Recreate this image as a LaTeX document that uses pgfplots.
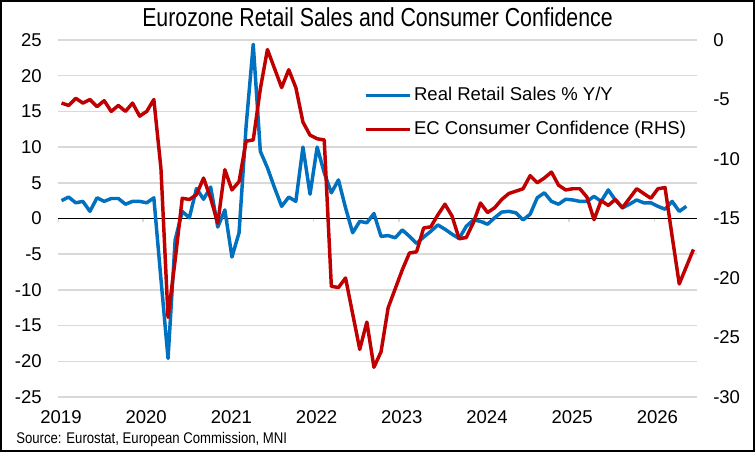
\documentclass[border=0pt]{standalone}
\usepackage{pgfplots}
\usepackage{pgfplotstable}
\pgfplotsset{compat=1.18}
\usepackage{fontspec}
\setmainfont{Liberation Sans}
\newfontfamily\titlefont[FakeStretch=0.82]{Liberation Sans}
\newfontfamily\srcfont[FakeStretch=0.85]{Liberation Sans}
\definecolor{blueline}{RGB}{0,112,192}
\definecolor{redline}{RGB}{192,0,0}
\definecolor{gridgray}{RGB}{217,217,217}
\newcommand{\tickfont}{\fontsize{13.9}{16}\selectfont}

\pgfplotstableread{
n v
0 2.5
1 3.0
2 2.2
3 2.4
4 1.0
5 2.9
6 2.4
7 2.8
8 2.8
9 2.0
10 2.4
11 2.4
12 2.2
13 2.9
14 -8.5
15 -19.6
16 -3.0
17 1.0
18 0.1
19 4.2
20 2.7
21 4.4
22 -1.2
23 1.2
24 -5.4
25 -2.0
26 13.0
27 24.4
28 9.4
29 7.1
30 4.3
31 1.7
32 3.0
33 2.4
34 10.0
35 3.4
36 10.0
37 6.4
38 3.6
39 5.4
40 1.5
41 -2.0
42 -0.4
43 -0.6
44 0.7
45 -2.5
46 -2.4
47 -2.7
48 -1.6
49 -2.5
50 -3.5
51 -2.6
52 -1.8
53 -0.9
54 -1.5
55 -2.2
56 -2.8
57 -1.1
58 -0.2
59 -0.4
60 -0.8
61 0.1
62 0.9
63 1.0
64 0.8
65 -0.2
66 0.6
67 2.9
68 3.6
69 2.4
70 2.0
71 2.7
72 2.6
73 2.4
74 2.4
75 3.1
76 2.4
77 4.0
78 2.6
79 1.5
80 2.0
81 2.6
82 2.2
83 2.2
84 1.7
85 1.3
86 2.4
87 1.0
88 1.7
}\bluedata

\pgfplotstableread{
n v
0 -5.3
1 -5.5
2 -4.9
3 -5.3
4 -5.0
5 -5.6
6 -5.1
7 -6.0
8 -5.5
9 -6.0
10 -5.3
11 -6.4
12 -6.0
13 -5.0
14 -10.8
15 -23.3
16 -18.5
17 -13.3
18 -13.4
19 -13.0
20 -11.6
21 -13.3
22 -15.4
23 -10.9
24 -12.6
25 -11.9
26 -8.5
27 -8.4
28 -4.1
29 -0.8
30 -2.4
31 -4.0
32 -2.5
33 -4.0
34 -6.9
35 -8.0
36 -8.3
37 -8.4
38 -20.7
39 -20.8
40 -20.0
41 -23.0
42 -26.0
43 -23.7
44 -27.5
45 -26.2
46 -22.5
47 -20.9
48 -19.3
49 -17.9
50 -17.8
51 -15.8
52 -15.7
53 -14.7
54 -13.8
55 -14.8
56 -16.7
57 -16.6
58 -15.35
59 -13.7
60 -14.5
61 -14.1
62 -13.4
63 -12.9
64 -12.7
65 -12.5
66 -11.4
67 -12.0
68 -11.6
69 -11.1
70 -12.2
71 -12.6
72 -12.5
73 -12.5
74 -13.2
75 -15.1
76 -13.5
77 -13.9
78 -13.4
79 -14.1
80 -13.3
81 -12.5
82 -12.9
83 -13.3
84 -12.5
85 -12.4
86 -16.5
87 -20.5
88 -19.05
89 -17.6
}\reddata

\begin{document}
\begin{tikzpicture}
\useasboundingbox (0,0) rectangle (566.25pt,339pt);
\fill[white] (0,0) rectangle (566.25pt,339pt);

\begin{axis}[
  at={(43.5pt,41.25pt)}, anchor=south west,
  scale only axis, width=479.25pt, height=267.75pt,
  xmin=-0.5, xmax=89.5, ymin=-25, ymax=25,
  xtick={-0.5,11.5,23.5,35.5,47.5,59.5,71.5,83.5},
  xticklabels={2019,2020,2021,2022,2023,2024,2025,2026},
  ytick={-25,-20,-15,-10,-5,0,5,10,15,20,25},
  axis line style={draw=none},
  major tick length=0pt,
  ymajorgrids, grid style={draw=gridgray, line width=1.1pt},
  tick label style={font=\tickfont},
  /pgf/number format/assume math mode=true,
  yticklabel style={anchor=east, inner sep=0pt, xshift=-12pt},
  xticklabel style={anchor=north, inner sep=0pt, yshift=-9.75pt, xshift=2.25pt},
]
\pgfplotsinvokeforeach{-0.5,11.5,23.5,35.5,47.5,59.5,71.5,83.5}{
  \draw[gridgray, line width=1.1pt] (axis cs:#1,0) -- ++(0pt,-3pt);
}
\draw[black, line width=1.1pt] (axis cs:-0.5,0) -- (axis cs:89.5,0);
\addplot[blueline, line width=2.6pt, line join=round] table[x=n, y=v] {\bluedata};
\end{axis}

\begin{axis}[
  at={(43.5pt,41.25pt)}, anchor=south west,
  scale only axis, width=479.25pt, height=267.75pt,
  xmin=-0.5, xmax=89.5, ymin=-30, ymax=0,
  axis y line*=right, axis x line=none,
  ytick={-30,-25,-20,-15,-10,-5,0},
  axis line style={draw=none},
  major tick length=0pt,
  tick label style={font=\tickfont},
  /pgf/number format/assume math mode=true,
  yticklabel style={anchor=west, inner sep=0pt, xshift=12pt},
  legend style={draw=none, fill=none, font=\tickfont,
    at={(rel axis cs:0.4789,0.869)}, anchor=north west,
    inner sep=0pt, row sep=12.5pt, column sep=2.25pt,
    nodes={inner sep=0pt, text height=10pt, text depth=3pt}},
  legend cell align=left,
  legend image code/.code={\draw[#1, line width=2.1pt] (0pt,0pt) -- (33pt,0pt);},
]
\addlegendimage{blueline}
\addlegendentry{Real Retail Sales \% Y/Y}
\addplot[redline, line width=2.6pt, line join=round] table[x=n, y=v] {\reddata};
\addlegendentry{EC Consumer Confidence (RHS)}
\end{axis}

\node[anchor=base, font=\titlefont\fontsize{19.5}{22}\selectfont] at (283.125pt,318.75pt) {Eurozone Retail Sales and Consumer Confidence};
\node[anchor=base west, inner sep=0pt, font=\srcfont\fontsize{11.6}{13}\selectfont] at (12pt,6pt) {Source: Eurostat, European Commission, MNI};
\draw[black, line width=1.5pt] (0.75pt,0.75pt) rectangle (565.5pt,338.25pt);
\end{tikzpicture}
\end{document}
